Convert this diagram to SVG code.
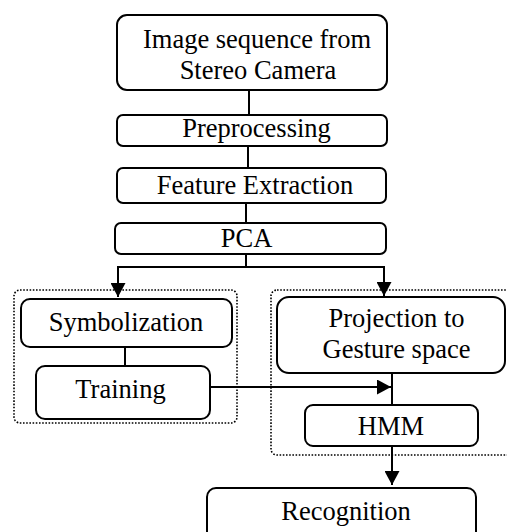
<svg xmlns="http://www.w3.org/2000/svg" width="507" height="532" viewBox="0 0 507 532">
<style>
.box{fill:#fff;stroke:#000;stroke-width:2}
.grp{fill:none;stroke:#000;stroke-width:1.6;stroke-dasharray:1.6 1.6}
.ln{fill:none;stroke:#000;stroke-width:2}
.t{font-family:'Liberation Serif','Times New Roman',serif;font-size:26.5px;fill:#000;text-anchor:middle}
</style>
<defs>
<marker id="ah" markerWidth="14" markerHeight="15" viewBox="0 0 14 15" refX="14" refY="7.5" orient="auto" markerUnits="userSpaceOnUse">
<path d="M0,0 L14,7.5 L0,15 Z" fill="#000"/>
</marker>
</defs>
<rect width="507" height="532" fill="#fff"/>
<g id="groups">
<rect class="grp" x="14" y="290" width="223" height="133" rx="6"/>
<rect class="grp" x="271" y="290" width="250" height="165" rx="6"/>
</g>
<g id="connectors">
<line class="ln" x1="249" y1="90" x2="249" y2="115"/>
<line class="ln" x1="248" y1="146" x2="248" y2="168"/>
<line class="ln" x1="246" y1="203" x2="246" y2="223"/>
<line class="ln" x1="246" y1="254" x2="246" y2="267"/>
<line class="ln" x1="117" y1="267" x2="385" y2="267"/>
<line class="ln" x1="118" y1="267" x2="118" y2="297" marker-end="url(#ah)"/>
<line class="ln" x1="384" y1="267" x2="384" y2="296" marker-end="url(#ah)"/>
<line class="ln" x1="125" y1="347" x2="125" y2="366"/>
<line class="ln" x1="210" y1="387" x2="391" y2="387" marker-end="url(#ah)"/>
<line class="ln" x1="392" y1="373" x2="392" y2="405"/>
<line class="ln" x1="392" y1="446" x2="392" y2="485" marker-end="url(#ah)"/>
</g>
<g font-family="Liberation Serif, Times New Roman, serif" font-size="26.5" text-anchor="middle">
<g id="n1"><rect class="box" x="117" y="15" width="270" height="75" rx="10"/>
<text class="t" x="257" y="48">Image sequence from</text><text class="t" x="258" y="79">Stereo Camera</text></g>
<g id="n2"><rect class="box" x="117" y="115" width="270" height="31" rx="6"/>
<text class="t" x="256.5" y="137">Preprocessing</text></g>
<g id="n3"><rect class="box" x="117" y="168" width="269" height="35" rx="6"/>
<text class="t" x="255" y="194">Feature Extraction</text></g>
<g id="n4"><rect class="box" x="115" y="223" width="271" height="31" rx="6"/>
<text class="t" x="246.5" y="247">PCA</text></g>
<g id="n5"><rect class="box" x="21" y="299" width="211" height="48" rx="9"/>
<text class="t" x="126" y="331">Symbolization</text></g>
<g id="n6"><rect class="box" x="36" y="366" width="174" height="53" rx="9"/>
<text class="t" x="120.5" y="398">Training</text></g>
<g id="n7"><rect class="box" x="277" y="297" width="228" height="76" rx="12"/>
<text class="t" x="396.5" y="327">Projection to</text><text class="t" x="396.5" y="358">Gesture space</text></g>
<g id="n8"><rect class="box" x="305" y="405" width="173" height="41" rx="8"/>
<text class="t" x="391" y="435">HMM</text></g>
<g id="n9"><rect class="box" x="207" y="488" width="269" height="60" rx="9"/>
<text class="t" x="346" y="520">Recognition</text></g>
</g>
</svg>
